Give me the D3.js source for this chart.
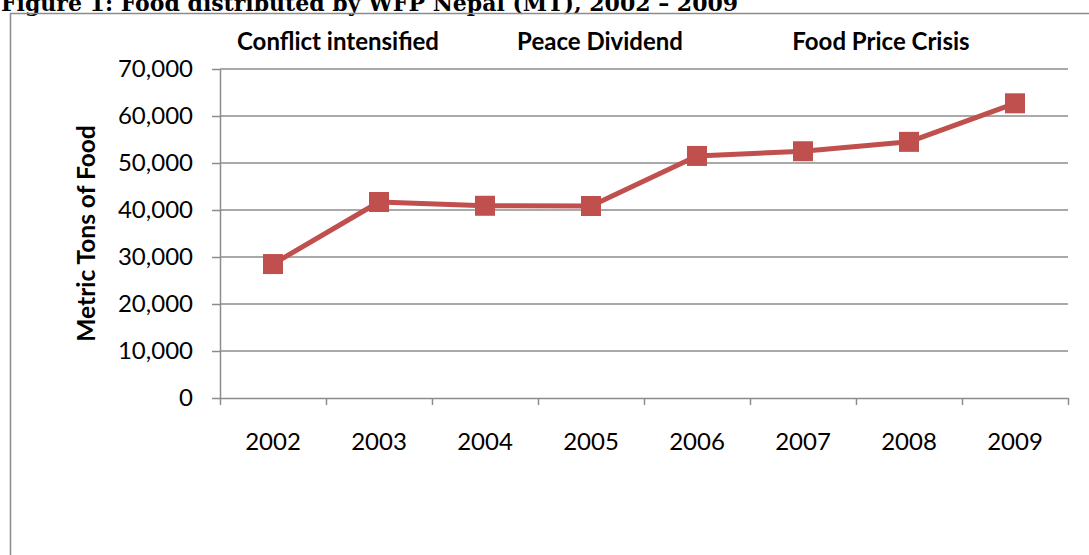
<!DOCTYPE html>
<html>
<head>
    <title>Food distributed by WFP Nepal</title>
    <script src="https://d3js.org/d3.v7.min.js"></script>
    <style>
        html, body {
            margin: 0;
            padding: 0;
            background: #ffffff;
            overflow: hidden;
        }
        #chart text {
            fill: #000;
        }
    </style>
</head>
<body>
<div id="chart"></div>
<script>
    // chart data
    const years = ['2002', '2003', '2004', '2005', '2006', '2007', '2008', '2009'];
    const tonnes = [28500, 41700, 40900, 40850, 51500, 52500, 54500, 62700];
    const yTicks = [0, 10000, 20000, 30000, 40000, 50000, 60000, 70000];
    const periods = ['Conflict intensified', 'Peace Dividend', 'Food Price Crisis'];
    const periodYears = ['2003', '2005', '2008']; // band whose left edge each label hangs off

    const width = 1089;
    const height = 555;
    const margin = { left: 220, right: 21, top: 69, bottom: 157 };
    const gray = '#8c8c8c';
    const red = '#c0504d';

    const svg = d3.select('#chart')
        .append('svg')
        .attr('width', width)
        .attr('height', height);

    // figure title, cut at the top like the source page
    svg.append('text')
        .text('Figure 1: Food distributed by WFP Nepal (MT), 2002 \u2013 2009')
        .attr('x', 1)
        .attr('y', 11)
        .style('font-family', '"DejaVu Serif", serif')
        .style('font-weight', 'bold')
        .style('font-size', '22px');

    // frame lines (top and left)
    svg.append('line')
        .attr('x1', 10).attr('x2', width)
        .attr('y1', 13.5).attr('y2', 13.5)
        .attr('stroke', gray).attr('stroke-width', 1.5);
    svg.append('line')
        .attr('x1', 10.5).attr('x2', 10.5)
        .attr('y1', 13).attr('y2', height)
        .attr('stroke', gray).attr('stroke-width', 1.5);

    const x = d3.scaleBand()
        .domain(years)
        .range([margin.left, width - margin.right]);

    const y = d3.scaleLinear()
        .domain([0, 70000])
        .range([height - margin.bottom, margin.top]);

    // gridlines
    svg.selectAll('.grid')
        .data(yTicks.slice(1))
        .enter()
        .append('line')
        .attr('class', 'grid')
        .attr('x1', margin.left)
        .attr('x2', width - margin.right)
        .attr('y1', d => y(d))
        .attr('y2', d => y(d))
        .attr('stroke', gray)
        .attr('stroke-width', 1.5);

    // y axis
    const yAxis = svg.append('g')
        .attr('transform', `translate(${margin.left},0)`)
        .call(d3.axisLeft(y)
            .tickValues(yTicks)
            .tickFormat(d3.format(','))
            .tickSize(8)
            .tickSizeOuter(0)
            .tickPadding(19));
    yAxis.selectAll('line, path').attr('stroke', gray).attr('stroke-width', 1.5);
    yAxis.selectAll('text')
        .style('font-family', 'Lato, sans-serif')
        .style('font-size', '24px');

    // x axis: tick marks on band edges
    const xEdge = d3.scaleLinear().domain([0, years.length]).range(x.range());
    const xTicks = svg.append('g')
        .attr('transform', `translate(0,${y(0)})`)
        .call(d3.axisBottom(xEdge)
            .tickValues(d3.range(years.length + 1))
            .tickFormat('')
            .tickSize(7)
            .tickSizeOuter(0));
    xTicks.selectAll('line, path').attr('stroke', gray).attr('stroke-width', 1.5);

    const xLabels = svg.append('g')
        .attr('transform', `translate(0,${y(0)})`)
        .call(d3.axisBottom(x).tickSize(0).tickPadding(35));
    xLabels.select('path').remove();
    xLabels.selectAll('text')
        .style('font-family', 'Lato, sans-serif')
        .style('font-size', '24px');

    // y axis title
    svg.append('text')
        .text('Metric Tons of Food')
        .attr('transform', `translate(95,${(y(0) + y(70000)) / 2}) rotate(-90)`)
        .attr('text-anchor', 'middle')
        .style('font-family', 'Lato, sans-serif')
        .style('font-weight', 'bold')
        .style('font-size', '24.5px');

    // period labels above the plot
    svg.selectAll('.period')
        .data(periods)
        .enter()
        .append('text')
        .attr('class', 'period')
        .text(d => d)
        .attr('x', (d, i) => x(periodYears[i]) + [12, 62, 25][i])
        .attr('y', 50)
        .attr('text-anchor', 'middle')
        .style('font-family', 'Lato, sans-serif')
        .style('font-weight', 'bold')
        .style('font-size', '24px');

    // series line and markers
    const line = d3.line()
        .x((d, i) => x(years[i]) + x.bandwidth() / 2)
        .y(d => y(d));

    svg.append('path')
        .datum(tonnes)
        .attr('d', line)
        .attr('fill', 'none')
        .attr('stroke', red)
        .attr('stroke-width', 5)
        .attr('stroke-linejoin', 'round');

    const size = 20;
    svg.selectAll('.marker')
        .data(tonnes)
        .enter()
        .append('rect')
        .attr('class', 'marker')
        .attr('x', (d, i) => x(years[i]) + x.bandwidth() / 2 - size / 2)
        .attr('y', d => y(d) - size / 2)
        .attr('width', size)
        .attr('height', size)
        .attr('fill', red);
</script>
</body>
</html>
